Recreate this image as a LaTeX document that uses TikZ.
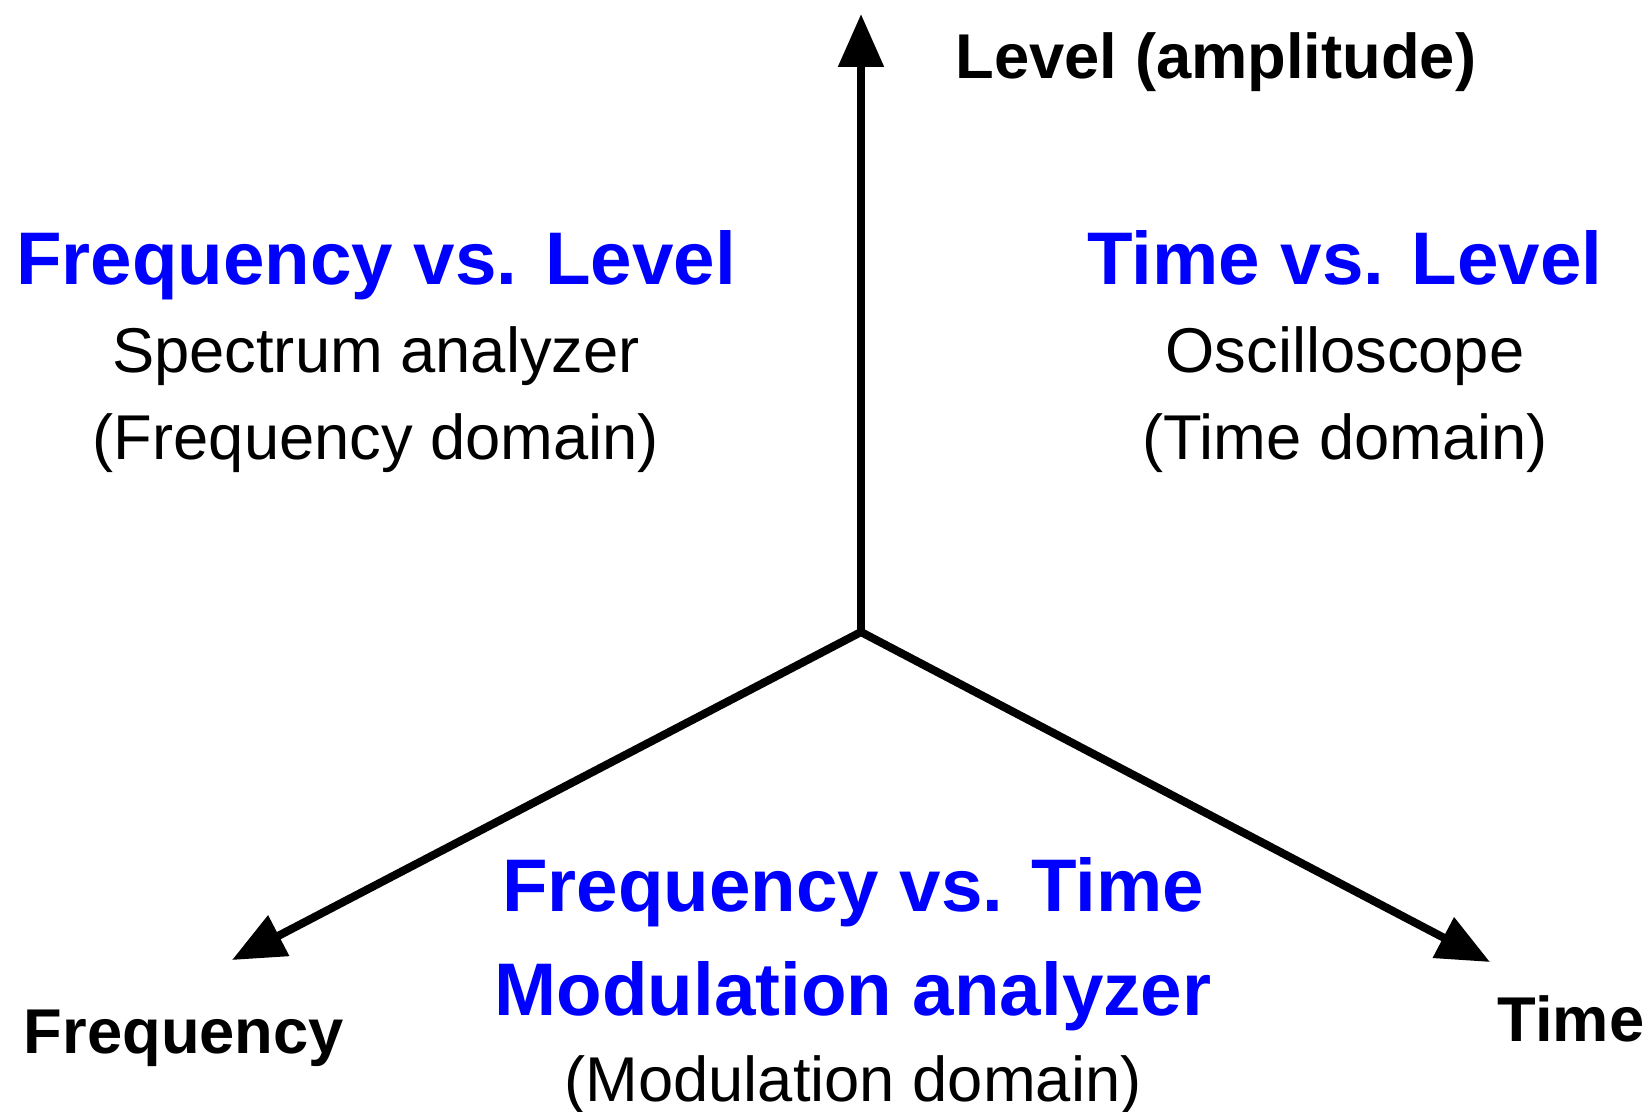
\documentclass[tikz,border=0pt]{standalone}
\usepackage{fontspec}
\setmainfont{Liberation Sans}
\usetikzlibrary{arrows.meta}

\begin{document}
\begin{tikzpicture}[x=0.01cm, y=-0.01cm,
axis/.style ={-{Triangle[length=15pt,width=12.5pt]}, line width=2.3pt},
head/.style ={anchor=base, text=blue, font=\fontsize{21.2}{26}\selectfont\bfseries, inner sep=0pt},
sub/.style ={anchor=base, font=\fontsize{18}{22}\selectfont, inner sep=0pt},
axlabel/.style ={anchor=base, font=\fontsize{18}{22}\selectfont\bfseries, inner sep=0pt}]
\useasboundingbox (0,0) rectangle (1651,1111);
% axes
\coordinate (O) at (861,632);
\coordinate (L) at (861,14);
\coordinate (F) at (232,960);
\coordinate (T) at (1490,962);
\draw[axis] (O) -- (L);
\draw[axis] (O) -- (F);
\draw[axis] (O) -- (T);
% axis names
\node[axlabel] (level) at (1216,78) {Level (amplitude)};
\node[axlabel] (freq) at (184,1053) {Frequency};
\node[axlabel] (time) at (1571,1041) {Time};
% the three planes
\node[head] (fvl) at (376,284) {Frequency vs. Level};
\node[sub] (spec) at (376,372) {Spectrum analyzer};
\node[sub] (fdom) at (376,459) {(Frequency domain)};
\node[head] (tvl) at (1345,284) {Time vs. Level};
\node[sub] (osc) at (1345,372) {Oscilloscope};
\node[sub] (tdom) at (1345,459) {(Time domain)};
\node[head] (fvt) at (853,911) {Frequency vs. Time};
\node[head] (mod) at (853,1015) {Modulation analyzer};
\node[sub] (mdom) at (853,1101) {(Modulation domain)};
\end{tikzpicture}
\end{document}
